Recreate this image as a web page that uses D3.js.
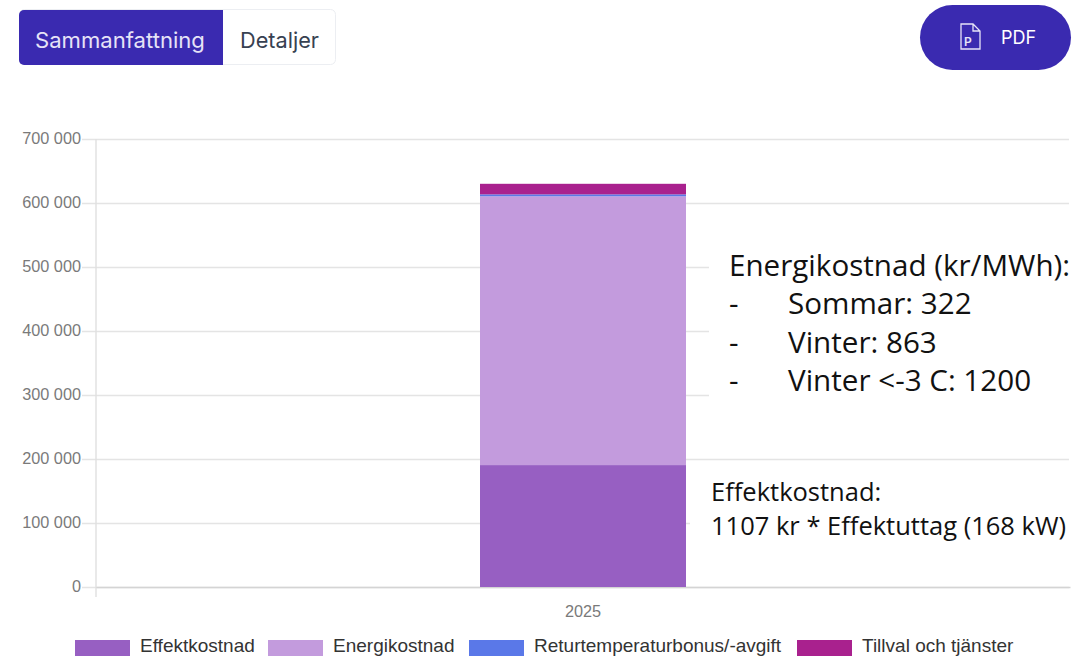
<!DOCTYPE html>
<html>
  <head>
    <meta charset="utf-8" />
    <title>Kostnad 2025</title>
    <script src="https://d3js.org/d3.v7.min.js"></script>
    <style>
      html, body { margin: 0; padding: 0; background: #fff; overflow: hidden; }
      svg { display: block; }
      .tick text { font-family: "Liberation Sans", Arial, sans-serif; font-size: 16.3px; fill: #7a7a7a; }
    </style>
  </head>
  <body>
    <svg width="1074" height="656"></svg>
    <script>
      var years = ["2025"];
      var seriesNames = ["Effektkostnad", "Energikostnad", "Returtemperaturbonus/-avgift", "Tillval och tjänster"];
      var seriesColors = ["#975fc2", "#c39bdd", "#5a78e8", "#a9218e"];
      var effektkostnad = [190500];
      var energikostnad = [420000];
      var returtemperatur = [3000];
      var tillval = [16500];
      var yTicks = [0, 100000, 200000, 300000, 400000, 500000, 600000, 700000];
      var energyNotes = ["Energikostnad (kr/MWh):", "Sommar: 322", "Vinter: 863", "Vinter <-3 C: 1200"];
      var powerNotes = ["Effektkostnad:", "1107 kr * Effektuttag (168 kW)"];

      var svg = d3.select("svg");
      var purple = "#3a2ab0";

      var y = d3.scaleLinear().domain([0, 700000]).range([587, 139]);
      var x = d3.scaleBand().domain(years).range([96, 1070]).paddingInner(0).paddingOuter(0);

      var rows = years.map(function (year, i) {
        return {
          year: year,
          Effektkostnad: effektkostnad[i],
          Energikostnad: energikostnad[i],
          "Returtemperaturbonus/-avgift": returtemperatur[i],
          "Tillval och tjänster": tillval[i],
        };
      });
      var stacked = d3.stack().keys(seriesNames)(rows);

      // grid + y axis
      var yAxis = svg
        .append("g")
        .attr("transform", "translate(96,0)")
        .call(
          d3
            .axisLeft(y)
            .tickValues(yTicks)
            .tickSize(14)
            .tickPadding(0)
            .tickFormat(function (d) {
              return d3.format(",")(d).replace(/,/g, " ");
            })
        );
      yAxis.select(".domain").remove();
      yAxis.selectAll(".tick line").attr("stroke", "#e4e4e4").attr("x1", 973).attr("x2", -14).attr("stroke-width", 1.4);
      yAxis.selectAll(".tick text").attr("x", -15).attr("dy", "0.26em");

      // vertical axis line, reaches a little under zero
      svg
        .append("line")
        .attr("x1", 96)
        .attr("x2", 96)
        .attr("y1", y(700000))
        .attr("y2", y(0) + 10)
        .attr("stroke", "#e0e0e0")
        .attr("stroke-width", 1.4);

      var xAxis = svg
        .append("g")
        .attr("transform", "translate(0," + y(0) + ")")
        .call(d3.axisBottom(x).tickSize(0).tickPadding(18));
      xAxis.select(".domain").attr("stroke", "#d4d4d4").attr("stroke-width", 1.6);

      // white boxes of the pasted text hide the grid
      svg.append("rect").attr("x", 709).attr("y", 240).attr("width", 365).attr("height", 165).attr("fill", "#fff");
      svg.append("rect").attr("x", 690).attr("y", 474).attr("width", 384).attr("height", 72).attr("fill", "#fff");

      // bar
      var barWidth = 206;
      svg
        .selectAll(".layer")
        .data(stacked)
        .enter()
        .append("g")
        .attr("class", "layer")
        .attr("fill", function (d, i) {
          return seriesColors[i];
        })
        .selectAll("rect")
        .data(function (d) {
          return d;
        })
        .enter()
        .append("rect")
        .attr("x", function (d) {
          return x(d.data.year) + x.bandwidth() / 2 - barWidth / 2;
        })
        .attr("width", barWidth)
        .attr("y", function (d) {
          return y(d[1]);
        })
        .attr("height", function (d) {
          return y(d[0]) - y(d[1]);
        });

      // legend
      var legendX = [75, 268, 469, 797];
      var legend = svg
        .selectAll(".legend")
        .data(seriesNames)
        .enter()
        .append("g")
        .attr("class", "legend")
        .attr("transform", function (d, i) {
          return "translate(" + legendX[i] + ",640)";
        });
      legend
        .append("rect")
        .attr("width", 55)
        .attr("height", 16)
        .attr("fill", function (d, i) {
          return seriesColors[i];
        });
      legend
        .append("text")
        .attr("x", 65)
        .attr("y", 11.5)
        .attr("font-family", "Liberation Sans, Arial, sans-serif")
        .attr("font-size", 19)
        .attr("fill", "#333")
        .text(function (d) {
          return d;
        });

      // annotations
      var noteFont = "Open Sans, Noto Sans, sans-serif";
      svg
        .selectAll(".energy")
        .data(energyNotes)
        .enter()
        .append("text")
        .attr("class", "energy")
        .attr("x", function (d, i) {
          return i === 0 ? 729 : 788;
        })
        .attr("y", function (d, i) {
          return 276 + i * 38.3;
        })
        .attr("font-family", noteFont)
        .attr("font-size", 29.6)
        .attr("fill", "#111")
        .text(function (d) {
          return d;
        });
      svg
        .selectAll(".dash")
        .data(energyNotes.slice(1))
        .enter()
        .append("text")
        .attr("class", "dash")
        .attr("x", 729)
        .attr("y", function (d, i) {
          return 276 + (i + 1) * 38.3;
        })
        .attr("font-family", noteFont)
        .attr("font-size", 29.6)
        .attr("fill", "#111")
        .text("-");
      svg
        .selectAll(".power")
        .data(powerNotes)
        .enter()
        .append("text")
        .attr("class", "power")
        .attr("x", 711)
        .attr("y", function (d, i) {
          return 501 + i * 34;
        })
        .attr("font-family", noteFont)
        .attr("font-size", 25.5)
        .attr("fill", "#111")
        .text(function (d) {
          return d;
        });

      // tab buttons
      svg.append("rect").attr("x", 19.5).attr("y", 9.5).attr("width", 316).attr("height", 55).attr("rx", 5).attr("fill", "#fff").attr("stroke", "#eceef2");
      svg.append("path").attr("d", "M223,10V65H24a5,5 0 0 1 -5,-5V15a5,5 0 0 1 5,-5Z").attr("fill", purple);
      svg.append("text").attr("x", 35).attr("y", 48).attr("font-family", "Inter, sans-serif").attr("font-size", 22.1).attr("fill", "#e6e3f7").text("Sammanfattning");
      svg.append("text").attr("x", 240).attr("y", 48).attr("font-family", "Inter, sans-serif").attr("font-size", 21.7).attr("fill", "#374151").text("Detaljer");

      // pdf button
      svg.append("rect").attr("x", 920).attr("y", 5).attr("width", 151).attr("height", 65).attr("rx", 32.5).attr("fill", purple);
      svg.append("path").attr("d", "M961,24H973L980,31V49H961ZM973,24V31H980").attr("fill", "none").attr("stroke", "#e6e3f7").attr("stroke-width", 1.3);
      svg.append("text").attr("x", 964).attr("y", 46).attr("font-family", "Inter, sans-serif").attr("font-size", 12).attr("font-weight", 600).attr("fill", "#e6e3f7").text("P");
      svg.append("text").attr("x", 1001).attr("y", 44).attr("font-family", "Inter, sans-serif").attr("font-size", 18).attr("fill", "#fff").text("PDF");
    </script>
  </body>
</html>
